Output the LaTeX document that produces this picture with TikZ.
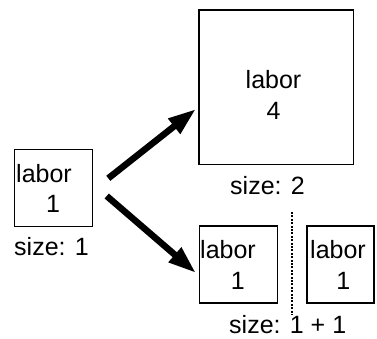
\documentclass[tikz,border=0pt]{standalone}
\usepackage{fontspec}
\setmainfont{Liberation Sans}
\usetikzlibrary{arrows.meta}
\begin{document}
\begin{tikzpicture}[x=1pt,y=-1pt,
  box/.style={draw,line width=1.4pt,inner sep=0pt},
  lbl/.style={inner sep=0pt,font=\fontsize{25}{30}\selectfont},
  bigarrow/.style={line width=6.5pt,line cap=butt,-{Triangle[length=28pt,width=18pt]}},
  sepline/.style={line width=2.2pt,dash pattern=on 2pt off 1.4pt}]
\useasboundingbox (0,0) rectangle (377,338);
% boxes
\node[box,minimum width=78pt,minimum height=77.4pt] (L) at (53.3,188) {};
\node[box,minimum width=154.3pt,minimum height=154.3pt] (B) at (276.2,87.2) {};
\node[box,minimum width=78pt,minimum height=77pt] (BL) at (238.3,264.5) {};
\node[box,minimum width=67pt,minimum height=77pt] (BR) at (340.5,264.5) {};
% texts
\node[lbl,anchor=base west] (t1) at (16,182) {labor};
\node[lbl,anchor=base] (t2) at (53,212.5) {1};
\node[lbl,anchor=base west] (s1) at (14,255) {size: 1};
\node[lbl,anchor=base] (t3) at (273.5,88) {labor};
\node[lbl,anchor=base] (t4) at (273.5,119) {4};
\node[lbl,anchor=base west] (s2) at (230,194) {size: 2};
\node[lbl,anchor=base west] (t5) at (200,258.5) {labor};
\node[lbl,anchor=base] (t6) at (237.7,289) {1};
\node[lbl,anchor=base west] (t7) at (310,258.5) {labor};
\node[lbl,anchor=base] (t8) at (343.3,289) {1};
\node[lbl,anchor=base west] (s3) at (229,333.5) {size: 1 + 1};
% arrows
\coordinate (a1s) at (108.3,178.3);
\coordinate (a1e) at (196,109);
\coordinate (a2s) at (106.7,196);
\coordinate (a2e) at (196,273);
\draw[bigarrow] (a1s) -- (a1e);
\draw[bigarrow] (a2s) -- (a2e);
% dotted separator
\coordinate (d1) at (291.7,212);
\coordinate (d2) at (291.7,315);
\draw[sepline] (d1) -- (d2);
\end{tikzpicture}
\end{document}
